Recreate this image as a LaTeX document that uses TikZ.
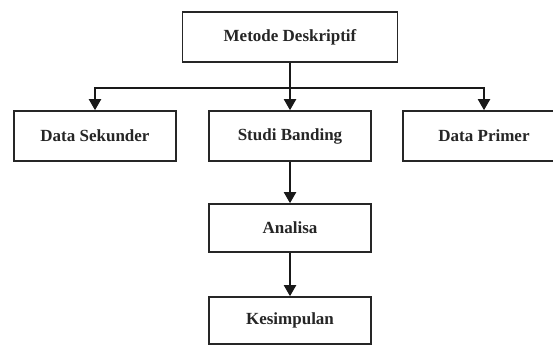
\documentclass[tikz,border=0pt]{standalone}
\usepackage{fontspec}
\setmainfont{Liberation Serif}
\usetikzlibrary{arrows.meta}
\begin{document}
\begin{tikzpicture}[x=1pt,y=-1pt,
  box/.style={draw=black!85,line width=1.6pt,fill=white,minimum height=50pt,inner sep=0pt,
    font=\fontsize{17}{20}\selectfont\bfseries,text=black!85},
  arr/.style={draw=black!90,line width=2pt,-{Triangle[width=12pt,length=11pt]}}]
\clip (0,0) rectangle (553,345);
\fill[white] (0,0) rectangle (553,345);
\node[box,minimum width=215pt] (md) at (290,37) {Metode Deskriptif};
\node[box,minimum width=162pt] (ds) at (95,136) {Data Sekunder};
\node[box,minimum width=162pt] (sb) at (290,136) {Studi Banding};
\node[box,minimum width=162pt] (dp) at (484,136) {Data Primer};
\node[box,minimum width=162pt,minimum height=48pt] (an) at (290,228) {Analisa};
\node[box,minimum width=162pt,minimum height=47pt] (ks) at (290,320.5) {Kesimpulan};
\draw[arr] (md.south) -- (sb.north);
\draw[arr] (md.south) -- ++(0,25) -| (ds.north);
\draw[arr] (md.south) -- ++(0,25) -| (dp.north);
\draw[arr] (sb.south) -- (an.north);
\draw[arr] (an.south) -- (ks.north);
\end{tikzpicture}
\end{document}
